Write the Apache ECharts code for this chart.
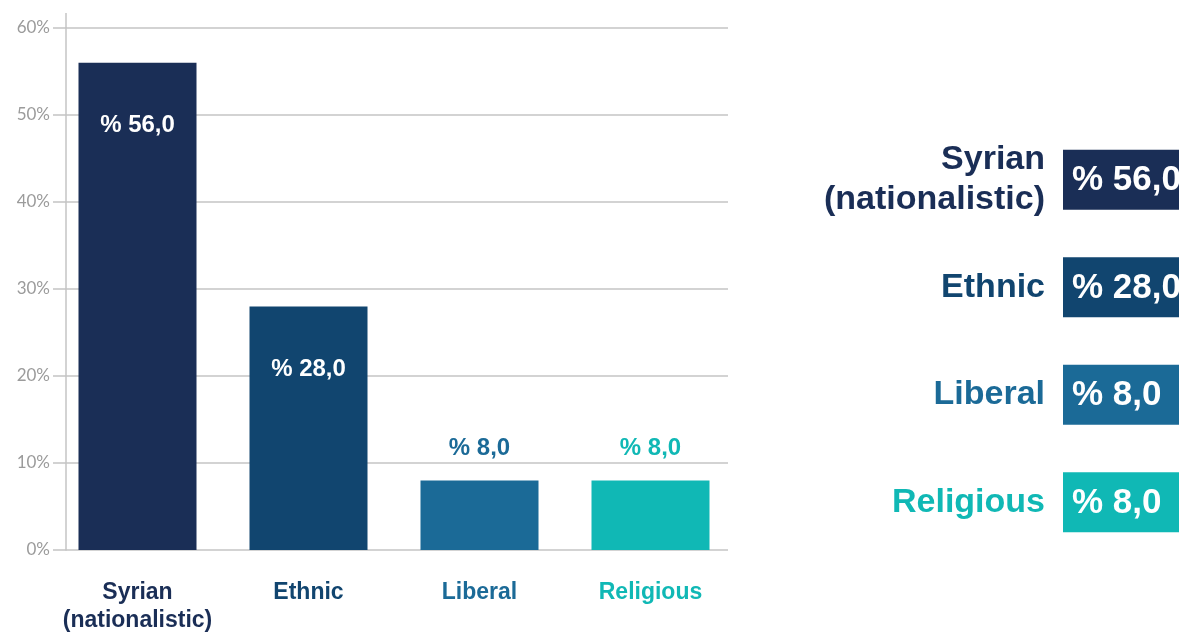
<!DOCTYPE html>
<html>
<head>
<meta charset="utf-8">
<title>Identity</title>
<script src="https://cdn.jsdelivr.net/npm/echarts@6/dist/echarts.min.js"></script>
<style>
  html, body { margin: 0; padding: 0; background: #ffffff; }
  #chart { width: 1179px; height: 632px; }
</style>
</head>
<body>
<div id="chart"></div>
<script>
// Categories and their shares (percent)
const categories = ['Syrian\n(nationalistic)', 'Ethnic', 'Liberal', 'Religious'];
const shares = [56.0, 28.0, 8.0, 8.0];
const barColors = ['#1a2e56', '#11456f', '#1b6a97', '#10b8b5'];

// Value axis ticks
const yMin = 0;
const yMax = 60;
const yStep = 10;

const FONT = '"Liberation Sans", Arial, sans-serif';
const GRID_COLOR = '#c4c4c4';

function fmtShare(v) {
  return '% ' + v.toFixed(1).replace('.', ',');
}

const chart = echarts.init(document.getElementById('chart'), null, { renderer: 'canvas' });

const barData = shares.map((v, i) => ({
  value: v,
  itemStyle: { color: barColors[i] },
  label: v > 15
    ? { position: 'insideTop', distance: 51, color: '#ffffff' }
    : { position: 'top', distance: 20, color: barColors[i] }
}));

const option = {
  backgroundColor: '#ffffff',
  animation: false,
  grid: [
    // gridlines and percent scale
    { left: 66, right: 451, top: 28, bottom: 82, outerBoundsMode: 'none' },
    // bars
    { left: 52, right: 443, top: 28, bottom: 82, outerBoundsMode: 'none' },
    // summary tags on the right
    { left: 1063, width: 140, top: 126, height: 430, outerBoundsMode: 'none' }
  ],
  xAxis: [
    { gridIndex: 0, type: 'category', data: categories, show: false },
    {
      gridIndex: 1, type: 'category', data: categories,
      axisLine: { show: false }, axisTick: { show: false },
      axisLabel: {
        margin: 29, fontFamily: FONT, fontSize: 23, fontWeight: 'bold',
        lineHeight: 28, interval: 0,
        color: (val, idx) => barColors[idx]
      }
    },
    { gridIndex: 2, type: 'value', min: 0, max: 100, show: false }
  ],
  yAxis: [
    {
      gridIndex: 0, type: 'value', min: yMin, max: yMax, interval: yStep,
      axisLine: { show: true, lineStyle: { color: GRID_COLOR, width: 1.5 } },
      axisTick: { show: true, length: 13, lineStyle: { color: GRID_COLOR, width: 1.5 } },
      splitLine: { show: true, lineStyle: { color: GRID_COLOR, width: 1.5 } },
      axisLabel: {
        margin: 16, fontFamily: 'Lato, sans-serif', fontSize: 17, color: '#9b9b9b',
        formatter: v => v + '%', verticalAlign: 'middle', lineHeight: 17,
        padding: [0, 0, 6, 0]
      }
    },
    { gridIndex: 1, type: 'value', min: yMin, max: yMax, interval: yStep, show: false },
    {
      gridIndex: 2, type: 'category', data: categories, inverse: true,
      axisLine: { show: false }, axisTick: { show: false }, splitLine: { show: false },
      axisLabel: {
        margin: 18, fontFamily: FONT, fontSize: 34, fontWeight: 'bold',
        lineHeight: 40, interval: 0, align: 'right',
        color: (val, idx) => barColors[idx]
      }
    }
  ],
  graphic: [
    {
      type: 'line', silent: true,
      shape: { x1: 66, y1: 13, x2: 66, y2: 28 },
      style: { stroke: GRID_COLOR, lineWidth: 1.5 }
    }
  ],
  series: [
    {
      type: 'bar', xAxisIndex: 1, yAxisIndex: 1,
      barWidth: 118,
      data: barData,
      label: {
        show: true, fontFamily: FONT, fontSize: 24, fontWeight: 'bold',
        formatter: p => fmtShare(p.value)
      }
    },
    {
      type: 'custom', xAxisIndex: 2, yAxisIndex: 2,
      encode: { x: 0, y: 1 },
      data: shares.map((v, i) => [v, i]),
      clip: false,
      renderItem: (params, api) => {
        const idx = api.value(1);
        const pt = api.coord([0, idx]);
        const cs = params.coordSys;
        const h = api.size([0, 1])[1] * 0.56;
        return {
          type: 'group',
          children: [
            {
              type: 'rect',
              shape: { x: cs.x, y: pt[1] - h / 2, width: cs.width, height: h },
              style: { fill: barColors[idx] }
            },
            {
              type: 'text',
              style: {
                text: fmtShare(api.value(0)),
                x: cs.x + 9, y: pt[1] + 1,
                verticalAlign: 'middle', align: 'left',
                fill: '#ffffff',
                font: 'bold 35px ' + FONT
              }
            }
          ]
        };
      }
    }
  ]
};

chart.setOption(option);
</script>
</body>
</html>
